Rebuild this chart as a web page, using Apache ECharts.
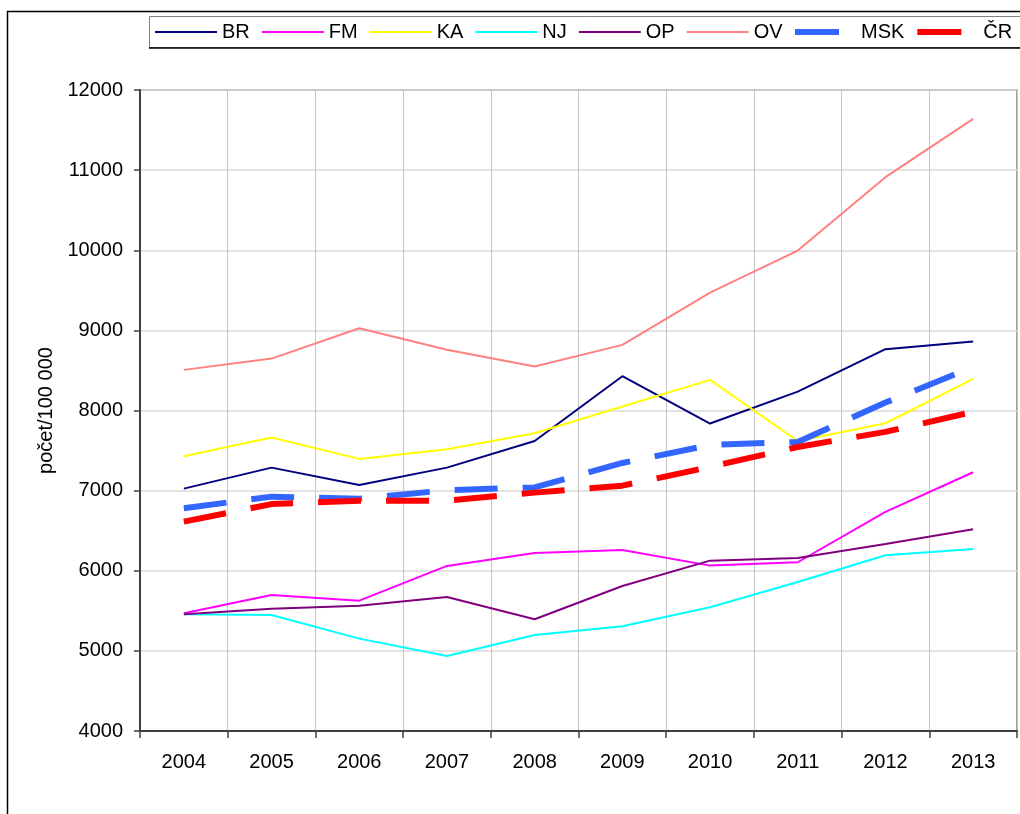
<!DOCTYPE html>
<html>
<head>
<meta charset="utf-8">
<script src="https://cdn.jsdelivr.net/npm/echarts@6/dist/echarts.min.js"></script>
<style>html,body{margin:0;padding:0;background:#fff}#c{width:1020px;height:814px}</style>
</head>
<body>
<div id="c"></div>
<script>
var years = ['2004','2005','2006','2007','2008','2009','2010','2011','2012','2013'];
var BR  = [7025, 7287, 7071, 7287, 7620, 8428, 7837, 8236, 8765, 8860];
var FM  = [5469, 5698, 5627, 6060, 6222, 6260, 6064, 6106, 6734, 7229];
var KA  = [7429, 7662, 7396, 7517, 7716, 8050, 8382, 7620, 7841, 8395];
var NJ  = [5457, 5448, 5153, 4936, 5199, 5307, 5544, 5860, 6193, 6272];
var OP  = [5457, 5527, 5564, 5673, 5394, 5810, 6126, 6160, 6335, 6518];
var OV  = [8507, 8648, 9027, 8757, 8548, 8819, 9472, 9996, 10912, 11640];
var MSK = [6780, 6925, 6900, 7005, 7040, 7345, 7570, 7608, 8099, 8544];
var CR  = [6613, 6832, 6875, 6875, 6975, 7062, 7296, 7545, 7733, 7983];
var yTicks = {min: 4000, max: 12000, step: 1000};
var yName = 'počet/100 000';

var FONT = '"Liberation Sans", Arial, sans-serif';
var chart = echarts.init(document.getElementById('c'), null, {renderer: 'canvas'});

function thin(name, data, color) {
  return {name: name, type: 'line', data: data, symbol: 'none', showSymbol: false,
    lineStyle: {color: color, width: 2}, itemStyle: {color: color}, animation: false, z: 3};
}
function dashed(name, data, color) {
  return {name: name, type: 'line', data: data, symbol: 'none', showSymbol: false,
    lineStyle: {color: color, width: 6, type: [43, 25], cap: 'butt'}, itemStyle: {color: color}, animation: false, z: 4};
}

chart.setOption({
  animation: false,
  textStyle: {fontFamily: FONT},
  graphic: [
    {type: 'rect', shape: {x: 7.5, y: 11.5, width: 1100, height: 900}, style: {fill: 'none', stroke: '#000', lineWidth: 1.5}, z: 0},
    {type: 'rect', shape: {x: 149.5, y: 16.5, width: 900, height: 31}, style: {fill: '#fff', stroke: '#808080', lineWidth: 1}, z: 1},
    {type: 'line', shape: {x1: 149, y1: 48, x2: 1020, y2: 48}, style: {stroke: '#000', lineWidth: 1.5}, z: 1}
  ],
  legend: [
    {
      left: 155, top: 22, padding: 0, itemGap: 12, itemWidth: 62, itemHeight: 2, icon: 'rect', width: 900,
      textStyle: {fontFamily: FONT, fontSize: 20, color: '#000'},
      data: ['BR','FM','KA','NJ','OP','OV'],
      z: 5
    },
    {
      left: 795, top: 22, padding: 0, itemGap: 13, itemWidth: 44, itemHeight: 6, icon: 'rect', width: 300,
      textStyle: {fontFamily: FONT, fontSize: 20, color: '#000', padding: [0, 0, 0, 17]},
      data: ['MSK','ČR'],
      z: 5
    }
  ],
  grid: {left: 140, right: 3, top: 90, bottom: 83, show: true, borderColor: '#808080', borderWidth: 1.5, containLabel: false},
  xAxis: {
    type: 'category', data: years, boundaryGap: true,
    axisLine: {show: true, lineStyle: {color: '#404040', width: 2}},
    axisTick: {show: true, length: 7, inside: false, interval: 0, lineStyle: {color: '#404040', width: 1.5}},
    axisLabel: {interval: 0, margin: 21, fontSize: 20, color: '#000', fontFamily: FONT},
    splitLine: {show: true, interval: 0, lineStyle: {color: '#c4c4c4', width: 1}}
  },
  yAxis: {
    type: 'value', min: yTicks.min, max: yTicks.max, interval: yTicks.step,
    name: yName, nameLocation: 'middle', nameGap: 80, nameRotate: 90,
    nameTextStyle: {fontSize: 20, color: '#000', fontFamily: FONT},
    axisLine: {show: true, lineStyle: {color: '#404040', width: 2}},
    axisTick: {show: true, length: 6, inside: false, lineStyle: {color: '#404040', width: 1.5}},
    axisLabel: {margin: 17, fontSize: 20, color: '#000', fontFamily: FONT, formatter: function (v) { return String(v); }},
    splitLine: {show: true, lineStyle: {color: '#d9d9d9', width: 1.5}}
  },
  series: [
    thin('BR', BR, '#000080'),
    thin('FM', FM, '#ff00ff'),
    thin('KA', KA, '#ffff00'),
    thin('NJ', NJ, '#00ffff'),
    thin('OP', OP, '#800080'),
    thin('OV', OV, '#ff8080'),
    dashed('MSK', MSK, '#3366ff'),
    dashed('ČR', CR, '#ff0000')
  ]
});
</script>
</body>
</html>
